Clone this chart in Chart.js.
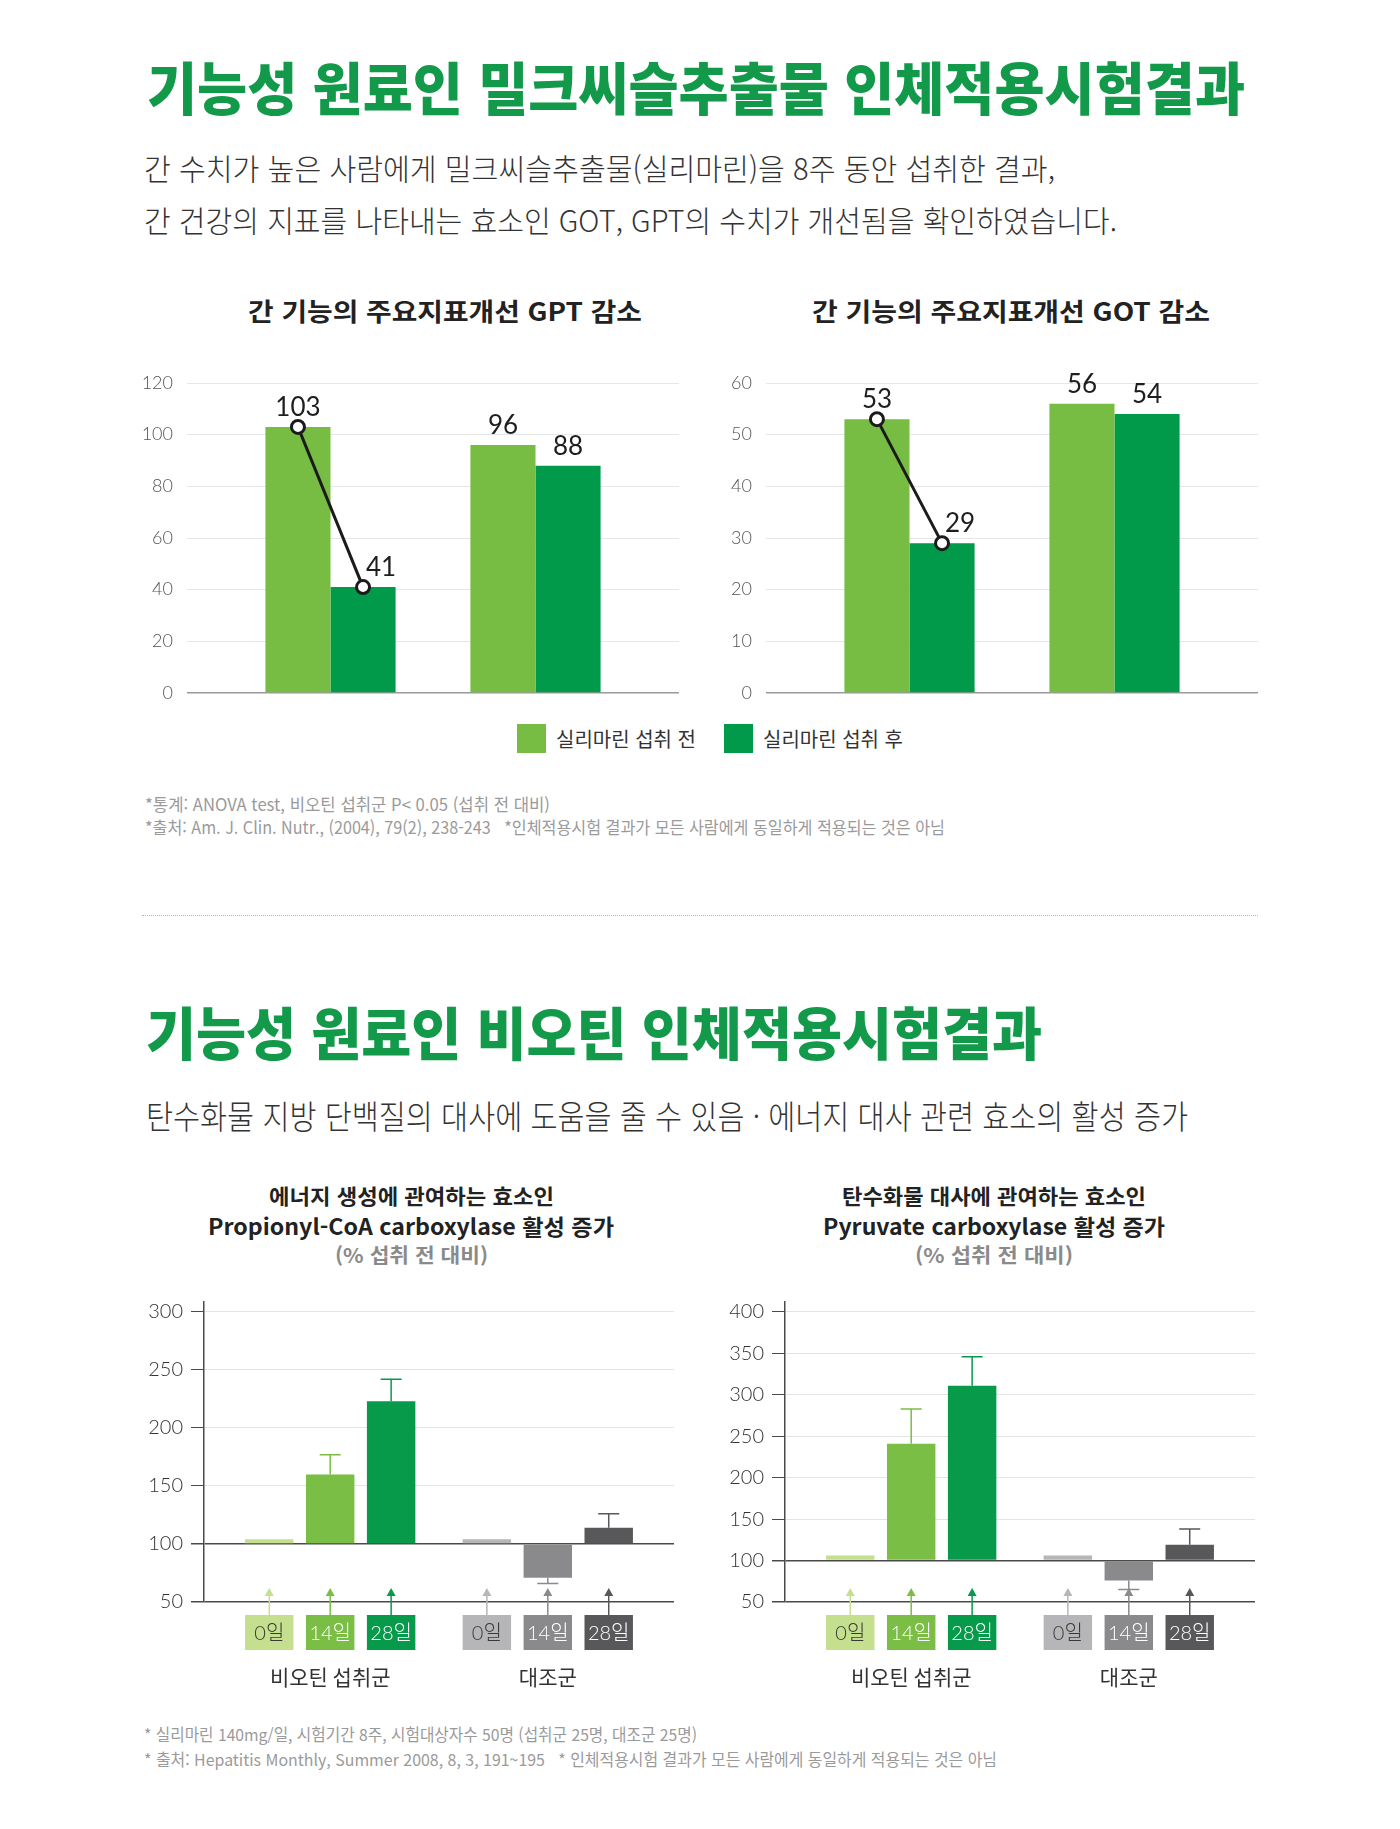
<!DOCTYPE html>
<html lang="ko">
<head>
<meta charset="utf-8">
<title>밀크씨슬추출물 · 비오틴 인체적용시험결과</title>
<script src="https://cdn.jsdelivr.net/npm/chart.js@4.4.1/dist/chart.umd.min.js"></script>
<style>
  html, body { margin: 0; padding: 0; background: #fff; }
  #page { position: relative; width: 1400px; height: 1829px; overflow: hidden;
          font-family: 'Noto Sans CJK KR', 'Noto Sans', sans-serif; }
  .t { position: absolute; white-space: pre; line-height: 1; transform-origin: 0 0; }
  .head { font-weight: 900; color: #129a4a; font-size: 57px; }
  .sub { font-weight: 300; color: #333; }
  .ctitle { font-weight: 700; color: #222; }
  .note { color: #9a9a9a; }
  .box { position: absolute; }
  #legend { position: absolute; left: 517px; top: 724px; display: flex; gap: 28px; }
  #legend .item { display: flex; align-items: center; }
  #legend .sw { width: 29px; height: 29px; margin-right: 10px; }
  #legend .lb { font-size: 20px; color: #333; line-height: 29px; }
  .sep { position: absolute; left: 142px; top: 915px; width: 1116px; border-top: 1px dotted #b5b5b5; }
</style>
</head>
<body>
<div id="page">
  <div class="t head" style="left:147px;top:57px" data-w="1098">기능성 원료인 밀크씨슬추출물 인체적용시험결과</div>
  <div class="t sub" style="left:144px;top:152px;font-size:30px" data-w="911">간 수치가 높은 사람에게 밀크씨슬추출물(실리마린)을 8주 동안 섭취한 결과,</div>
  <div class="t sub" style="left:144px;top:204px;font-size:30px" data-w="973">간 건강의 지표를 나타내는 효소인 GOT, GPT의 수치가 개선됨을 확인하였습니다.</div>

  <div class="t ctitle" style="left:248px;top:298px;font-size:25px" data-w="394">간 기능의 주요지표개선 GPT 감소</div>
  <div class="t ctitle" style="left:812px;top:298px;font-size:25px" data-w="398">간 기능의 주요지표개선 GOT 감소</div>
  <div class="box" style="left:130px;top:353px;width:630px;height:370px"><canvas id="gpt"></canvas></div>
  <div class="box" style="left:709px;top:353px;width:630px;height:370px"><canvas id="got"></canvas></div>
  <div id="legend"></div>

  <div class="t note" style="left:145px;top:795px;font-size:17px" data-w="405">*통계: ANOVA test, 비오틴 섭취군 P&lt; 0.05 (섭취 전 대비)</div>
  <div class="t note" style="left:145px;top:818px;font-size:17px" data-w="800">*출처: Am. J. Clin. Nutr., (2004), 79(2), 238-243   *인체적용시험 결과가 모든 사람에게 동일하게 적용되는 것은 아님</div>
  <div class="sep"></div>

  <div class="t head" style="left:146px;top:1002px" data-w="896">기능성 원료인 비오틴 인체적용시험결과</div>
  <div class="t sub" style="left:146px;top:1099px;font-size:33px" data-w="1042">탄수화물 지방 단백질의 대사에 도움을 줄 수 있음 · 에너지 대사 관련 효소의 활성 증가</div>

  <div class="t ctitle" style="left:269px;top:1185px;font-size:21px" data-w="285">에너지 생성에 관여하는 효소인</div>
  <div class="t ctitle" style="left:208px;top:1214px;font-size:22px" data-w="406">Propionyl-CoA carboxylase 활성 증가</div>
  <div class="t ctitle" style="left:335px;top:1245px;font-size:20px;color:#8a8a8a" data-w="153">(% 섭취 전 대비)</div>
  <div class="t ctitle" style="left:842px;top:1185px;font-size:21px" data-w="304">탄수화물 대사에 관여하는 효소인</div>
  <div class="t ctitle" style="left:823px;top:1214px;font-size:22px" data-w="342">Pyruvate carboxylase 활성 증가</div>
  <div class="t ctitle" style="left:915px;top:1245px;font-size:20px;color:#8a8a8a" data-w="158">(% 섭취 전 대비)</div>
  <div class="box" style="left:140px;top:1272px;width:560px;height:428px"><canvas id="pcc"></canvas></div>
  <div class="box" style="left:721px;top:1272px;width:560px;height:428px"><canvas id="pc"></canvas></div>

  <div class="t note" style="left:144px;top:1726px;font-size:16.5px" data-w="553">* 실리마린 140mg/일, 시험기간 8주, 시험대상자수 50명 (섭취군 25명, 대조군 25명)</div>
  <div class="t note" style="left:144px;top:1751px;font-size:16.5px" data-w="853">* 출처: Hepatitis Monthly, Summer 2008, 8, 3, 191~195   * 인체적용시험 결과가 모든 사람에게 동일하게 적용되는 것은 아님</div>
</div>

<script>
const NUM = "Lato, 'Noto Sans CJK KR', sans-serif";
const KR = "'Noto Sans CJK KR', 'Noto Sans', sans-serif";

// 밀크씨슬 (GPT / GOT)
const intakeLabels = ['실리마린 섭취 전', '실리마린 섭취 후'];
const gptBefore = [103, 96];
const gptAfter = [41, 88];
const gotBefore = [53, 56];
const gotAfter = [29, 54];
const gptTicks = [0, 20, 40, 60, 80, 100, 120];
const gotTicks = [0, 10, 20, 30, 40, 50, 60];

// 비오틴 (% 섭취 전 대비), 일자별 [비오틴 섭취군, 대조군]
const groups = ['비오틴 섭취군', '대조군'];
const days = ['0일', '14일', '28일'];
const pccValues = [[104, 104], [160, 71], [223, 114]];
const pccErrors = [[null, null], [177, 66], [242, 126]];
const pcValues = [[106, 106], [241, 76], [311, 119]];
const pcErrors = [[null, null], [283, 65], [346, 138]];
const pccTicks = [50, 100, 150, 200, 250, 300];
const pcTicks = [50, 100, 150, 200, 250, 300, 350, 400];
const baseLevel = 100;

const beforeColor = '#78bd43';
const afterColor = '#009a4a';
const greenShades = ['#c4df8e', '#7bbe45', '#079a4b'];
const grayShades = ['#b6b6b8', '#8a8a8d', '#58585b'];

Chart.defaults.font.family = NUM;

// 텍스트 폭 맞추기
document.querySelectorAll('[data-w]').forEach(el => {
  const w = +el.dataset.w;
  const natural = el.getBoundingClientRect().width;
  if (natural > 0) el.style.transform = `scaleX(${w / natural})`;
});

// 범례
const legend = document.getElementById('legend');
[beforeColor, afterColor].forEach((c, i) => {
  const item = document.createElement('div');
  item.className = 'item';
  item.innerHTML = `<div class="sw" style="background:${c}"></div><div class="lb">${intakeLabels[i]}</div>`;
  legend.appendChild(item);
});

const valueLabels = {
  id: 'valueLabels',
  afterDatasetsDraw(chart) {
    const ctx = chart.ctx;
    ctx.save();
    ctx.font = `400 26px ${NUM}`;
    ctx.fillStyle = '#1e1e1e';
    ctx.textAlign = 'center';
    ctx.textBaseline = 'alphabetic';
    chart.data.datasets.forEach((ds, di) => {
      chart.getDatasetMeta(di).data.forEach((bar, i) => {
        // 연결선 끝점의 라벨은 선을 피해 오른쪽으로
        const shift = (di === 1 && i === 0) ? 18 : 0;
        ctx.fillText(ds.data[i].y, bar.x + shift, bar.y - 11);
      });
    });
    ctx.restore();
  }
};

const connector = {
  id: 'connector',
  afterDatasetsDraw(chart) {
    const a = chart.getDatasetMeta(0).data[0];
    const b = chart.getDatasetMeta(1).data[0];
    const ctx = chart.ctx;
    ctx.save();
    ctx.strokeStyle = '#1b1b1b';
    ctx.lineWidth = 3;
    ctx.beginPath();
    ctx.moveTo(a.x, a.y);
    ctx.lineTo(b.x, b.y);
    ctx.stroke();
    [a, b].forEach(p => {
      ctx.beginPath();
      ctx.arc(p.x, p.y, 6.5, 0, Math.PI * 2);
      ctx.fillStyle = '#fff';
      ctx.fill();
      ctx.stroke();
    });
    ctx.restore();
  }
};

function upperChart(id, before, after, ticks) {
  const toPoints = arr => arr.map((v, i) => ({ x: i + 1, y: v }));
  return new Chart(document.getElementById(id), {
    type: 'bar',
    data: {
      datasets: [
        { label: intakeLabels[0], data: toPoints(before), backgroundColor: beforeColor, categoryPercentage: 0.635, barPercentage: 1 },
        { label: intakeLabels[1], data: toPoints(after), backgroundColor: afterColor, categoryPercentage: 0.635, barPercentage: 1 }
      ]
    },
    options: {
      responsive: true,
      maintainAspectRatio: false,
      animation: false,
      events: [],
      layout: { padding: { top: 30, bottom: 30, left: 0, right: 81 } },
      plugins: { legend: { display: false }, tooltip: { enabled: false } },
      scales: {
        x: {
          type: 'linear', min: 0.3, max: 2.7, offset: false, display: false,
          afterBuildTicks: s => { s.ticks = before.map((v, i) => ({ value: i + 1 })); }
        },
        y: {
          min: ticks[0], max: ticks[ticks.length - 1],
          afterBuildTicks: s => { s.ticks = ticks.map(v => ({ value: v })); },
          afterFit: s => { s.width = 57; },
          border: { display: false },
          grid: {
            drawTicks: false,
            color: c => (c.tick && c.tick.value === ticks[0]) ? '#9a9a9a' : '#e6e6e6',
            lineWidth: c => (c.tick && c.tick.value === ticks[0]) ? 1.5 : 1
          },
          ticks: { padding: 14, color: '#555', font: { family: NUM, size: 18, weight: '300' } }
        }
      }
    },
    plugins: [valueLabels, connector]
  });
}

const errorBars = {
  id: 'errorBars',
  afterDatasetsDraw(chart) {
    const ctx = chart.ctx;
    const y = chart.scales.y;
    ctx.save();
    ctx.lineWidth = 1.5;
    chart.data.datasets.forEach((ds, di) => {
      chart.getDatasetMeta(di).data.forEach((bar, i) => {
        const e = ds.errorEnds[i];
        if (e == null) return;
        const ey = y.getPixelForValue(e);
        ctx.strokeStyle = ds.backgroundColor[i];
        ctx.beginPath();
        ctx.moveTo(bar.x, bar.y);
        ctx.lineTo(bar.x, ey);
        ctx.moveTo(bar.x - 10.5, ey);
        ctx.lineTo(bar.x + 10.5, ey);
        ctx.stroke();
      });
    });
    ctx.restore();
  }
};

function isLight(hex) {
  const n = parseInt(hex.slice(1), 16);
  const r = n >> 16, g = (n >> 8) & 255, b = n & 255;
  return (0.299 * r + 0.587 * g + 0.114 * b) > 170;
}

const dayBoxes = {
  id: 'dayBoxes',
  afterDraw(chart) {
    const ctx = chart.ctx;
    const area = chart.chartArea;
    const top = area.bottom + 13, h = 35;
    ctx.save();
    chart.data.datasets.forEach((ds, di) => {
      chart.getDatasetMeta(di).data.forEach((bar, i) => {
        const color = ds.backgroundColor[i];
        ctx.strokeStyle = color;
        ctx.fillStyle = color;
        ctx.lineWidth = 1.5;
        ctx.beginPath();
        ctx.moveTo(bar.x, top);
        ctx.lineTo(bar.x, area.bottom - 8);
        ctx.stroke();
        ctx.beginPath();
        ctx.moveTo(bar.x, area.bottom - 14);
        ctx.lineTo(bar.x - 4.5, area.bottom - 6);
        ctx.lineTo(bar.x + 4.5, area.bottom - 6);
        ctx.closePath();
        ctx.fill();
        ctx.fillRect(bar.x - bar.width / 2, top, bar.width, h);
        ctx.fillStyle = isLight(color) ? '#3a3a32' : '#fff';
        ctx.font = `300 20px ${NUM}`;
        ctx.textAlign = 'center';
        ctx.textBaseline = 'middle';
        ctx.fillText(ds.label, bar.x, top + h / 2 + 1, bar.width - 2);
      });
    });
    ctx.fillStyle = '#333';
    ctx.font = `400 21px ${KR}`;
    ctx.textAlign = 'center';
    ctx.textBaseline = 'middle';
    groups.forEach((g, i) => {
      ctx.fillText(g, chart.scales.x.getPixelForValue(i + 1), area.bottom + 75);
    });
    ctx.restore();
  }
};

function lowerChart(id, values, errors, ticks, yMax) {
  const datasets = days.map((d, di) => ({
    label: d,
    data: values[di].map((v, i) => ({ x: i + 1, y: v })),
    errorEnds: errors[di],
    backgroundColor: [greenShades[di], grayShades[di]],
    base: baseLevel,
    categoryPercentage: 0.84,
    barPercentage: 0.795
  }));
  const dark = v => v === baseLevel || v === ticks[0];
  return new Chart(document.getElementById(id), {
    type: 'bar',
    data: { datasets },
    options: {
      responsive: true,
      maintainAspectRatio: false,
      animation: false,
      events: [],
      layout: { padding: { top: 30, bottom: 98, left: 0, right: 26 } },
      plugins: { legend: { display: false }, tooltip: { enabled: false } },
      scales: {
        x: {
          type: 'linear', min: 0.42, max: 2.58, offset: false, display: false,
          afterBuildTicks: s => { s.ticks = groups.map((g, i) => ({ value: i + 1 })); }
        },
        y: {
          min: ticks[0], max: yMax,
          afterBuildTicks: s => { s.ticks = ticks.map(v => ({ value: v })); },
          afterFit: s => { s.width = 64; },
          border: { color: '#4a4a4a', width: 1.5 },
          grid: {
            tickLength: 13,
            tickColor: '#4a4a4a',
            color: c => (c.tick && dark(c.tick.value)) ? '#4a4a4a' : '#e4e4e4',
            lineWidth: c => (c.tick && dark(c.tick.value)) ? 1.5 : 1
          },
          ticks: { padding: 8, color: '#333', font: { family: NUM, size: 20, weight: '300' } }
        }
      }
    },
    plugins: [errorBars, dayBoxes]
  });
}

upperChart('gpt', gptBefore, gptAfter, gptTicks);
upperChart('got', gotBefore, gotAfter, gotTicks);
lowerChart('pcc', pccValues, pccErrors, pccTicks, 308.6);
lowerChart('pc', pcValues, pcErrors, pcTicks, 412);
</script>
</body>
</html>
